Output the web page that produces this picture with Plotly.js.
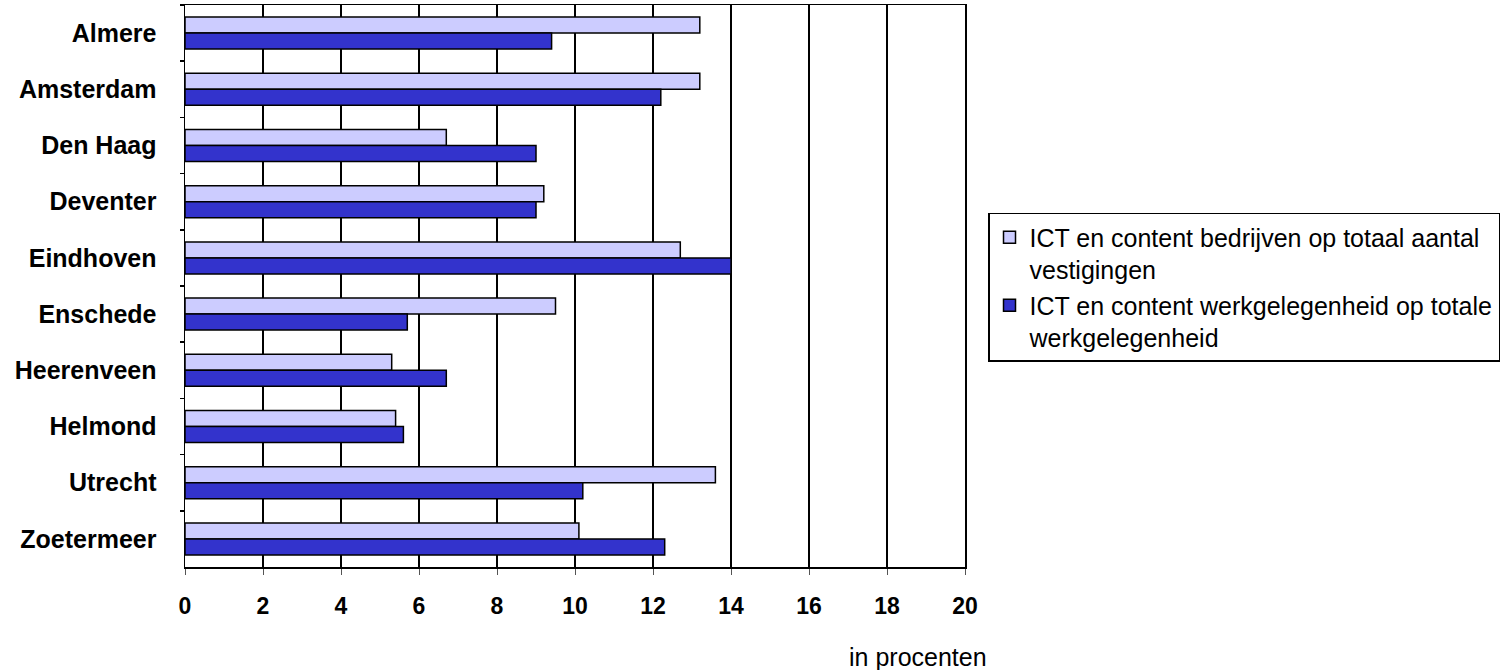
<!DOCTYPE html>
<html>
<head>
<meta charset="utf-8">
<script src="https://cdn.plot.ly/plotly-3.0.1.min.js"></script>
<style>html,body{margin:0;padding:0;background:#fff;}#chart{width:1500px;height:670px;}</style>
</head>
<body>
<div id="chart"></div>
<script>
const cities = ["Almere","Amsterdam","Den Haag","Deventer","Eindhoven","Enschede","Heerenveen","Helmond","Utrecht","Zoetermeer"];
const bedrijven = [13.2, 13.2, 6.7, 9.2, 12.7, 9.5, 5.3, 5.4, 13.6, 10.1];
const werkgelegenheid = [9.4, 12.2, 9.0, 9.0, 14.0, 5.7, 6.7, 5.6, 10.2, 12.3];
const seriesNames = ["ICT en content bedrijven op totaal aantal<br>vestigingen", "ICT en content werkgelegenheid op totale<br>werkgelegenheid"];
const xTicks = [0,2,4,6,8,10,12,14,16,18,20];

const font = "'Liberation Sans', Arial, sans-serif";

const traces = [
  {type:'bar', orientation:'h', y:cities, x:bedrijven, name:seriesNames[0],
   marker:{color:'#CCCCFF', line:{color:'#000000', width:1.5}}},
  {type:'bar', orientation:'h', y:cities, x:werkgelegenheid, name:seriesNames[1],
   marker:{color:'#3333CC', line:{color:'#000000', width:1.5}}}
];

const layout = {
  width:1500, height:670,
  margin:{l:185, r:535, t:5, b:103, pad:0, autoexpand:false},
  paper_bgcolor:'#ffffff', plot_bgcolor:'#ffffff',
  font:{family:font, size:22, color:'#000'},
  barmode:'group', bargap:0.43, bargroupgap:0,
  showlegend:true,
  legend:{x:1.0295, xanchor:'left', y:0.63, yanchor:'top',
          bordercolor:'#000', borderwidth:1.5, bgcolor:'#fff',
          font:{family:font, size:25, color:'#000'}, valign:'top',
          tracegroupgap:6},
  xaxis:{range:[0,20], tickvals:xTicks, ticktext:xTicks.map(String),
         showgrid:true, gridcolor:'#000', gridwidth:1.5,
         showline:true, linecolor:'#000', linewidth:1.5, mirror:true,
         ticks:'outside', ticklen:6, tickcolor:'#555', tickwidth:1,
         ticklabelstandoff:12,
         tickfont:{family:font, size:23, color:'#000', weight:'bold'},
         zeroline:false, fixedrange:true, automargin:false},
  yaxis:{autorange:'reversed', type:'category',
         showline:true, linecolor:'#000', linewidth:1.5, mirror:true,
         showgrid:false, ticks:'outside', ticklen:4, tickson:'boundaries',
         tickcolor:'#000', tickwidth:1.5, ticklabelstandoff:22,
         tickfont:{family:font, size:25, color:'#000', weight:'bold'},
         fixedrange:true, automargin:false},
  annotations:[{text:'in procenten', xref:'paper', yref:'paper',
                x:0.94, y:-0.16, xanchor:'center', yanchor:'middle',
                showarrow:false, font:{family:font, size:25, color:'#000'}}]
};

Plotly.newPlot('chart', traces, layout, {displayModeBar:false, staticPlot:true});
</script>
</body>
</html>
